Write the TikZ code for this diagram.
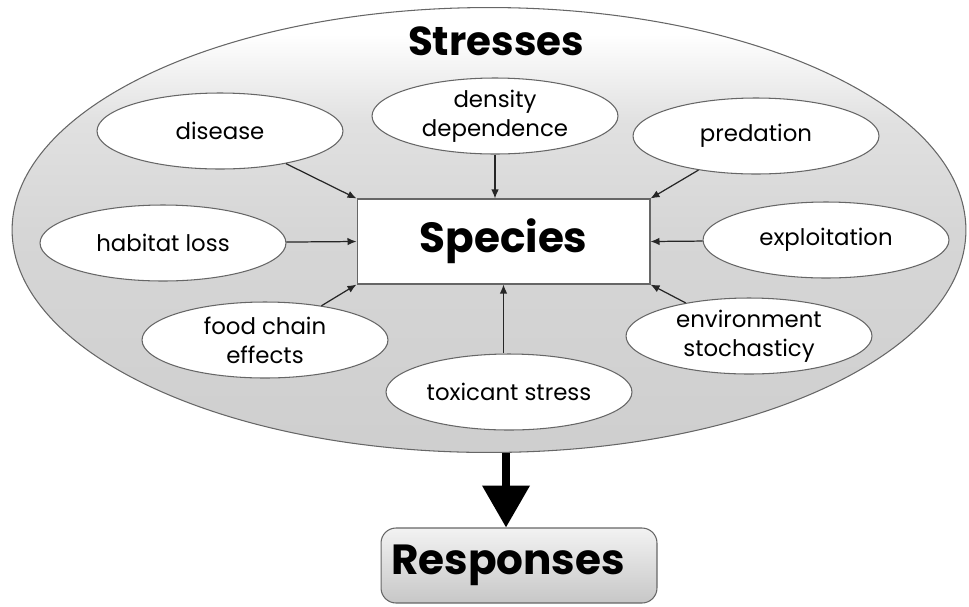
\documentclass[tikz,border=0pt]{standalone}
\usepackage{fontspec}
\setmainfont{Poppins}
\usetikzlibrary{arrows.meta,shapes.geometric}

% background of the outer ellipse: grey, fading to white towards the top
\pgfdeclareverticalshading{stressshade}{100bp}{%
  color(0bp)=(black!19); color(25bp)=(black!19); color(50bp)=(black!16);
  color(62bp)=(black!12); color(68bp)=(black!5); color(72bp)=(white);
  color(100bp)=(white)}

\begin{document}
\begin{tikzpicture}[x=0.02cm, y=-0.02cm,
  stress/.style={ellipse, draw=black!60, line width=0.6pt, fill=white,
    minimum width=4.92cm, minimum height=1.52cm, inner sep=0pt,
    align=center, font=\fontsize{13}{16.5}\selectfont},
  feed/.style={draw=black!85, line width=0.7pt,
    -{Latex[length=0.18cm,width=0.15cm]}},
  bigtitle/.style={font=\bfseries\fontsize{23}{27}\selectfont}]
\useasboundingbox (0,0) rectangle (969,606);

% outer ellipse holding all the stresses
\node[ellipse, draw=black!60, line width=0.6pt, shading=stressshade,
  minimum width=19.08cm, minimum height=8.9cm, inner sep=0pt]
  (stresses) at (489,230) {};
\node[bigtitle] (stresslabel) at (496,41) {Stresses};

% central box
\node[draw=black!60, line width=0.6pt, fill=white,
  minimum width=5.86cm, minimum height=1.7cm, inner sep=0pt,
  font=\bfseries\fontsize{24}{28}\selectfont] (species) at (503.5,241.5) {Species};

% individual stresses
\node[stress] (disease)     at (220,131) {disease};
\node[stress] (density)     at (495,116) {density\\dependence};
\node[stress] (predation)   at (756,136) {predation};
\node[stress] (habitat)     at (163,243) {habitat loss};
\node[stress] (exploit)     at (826,240) {exploitation};
\node[stress] (foodchain)   at (265,340) {food chain\\effects};
\node[stress] (toxicant)    at (509,392) {toxicant stress};
\node[stress] (environment) at (749,336) {environment\\stochasticy};

% stresses acting on the species
\draw[feed] (disease) -- (species.north west);
\draw[feed] (density.south) -- (density.south |- species.north);
\draw[feed] (predation) -- (species.north east);
\draw[feed] (habitat) -- (species.west);
\draw[feed] (exploit) -- (species.east);
\draw[feed] (foodchain) -- (species.south west);
\draw[feed] (species.south |- toxicant.north) -- (species.south);
\draw[feed] (environment) -- (species.south east);

% responses
\node[draw=black!60, line width=0.6pt, rounded corners=0.3cm,
  top color=black!5, bottom color=black!22,
  minimum width=5.52cm, minimum height=1.5cm, inner sep=0pt]
  (responses) at (519,565.5) {};
\node[font=\bfseries\fontsize{24}{28}\selectfont] (responselabel) at (508,565.5) {Responses};

\coordinate (outflow) at (506,453);
\draw[line width=0.15cm, -{Triangle[width=0.92cm,length=0.84cm]}]
  (outflow) -- (outflow |- responses.north);
\end{tikzpicture}
\end{document}
